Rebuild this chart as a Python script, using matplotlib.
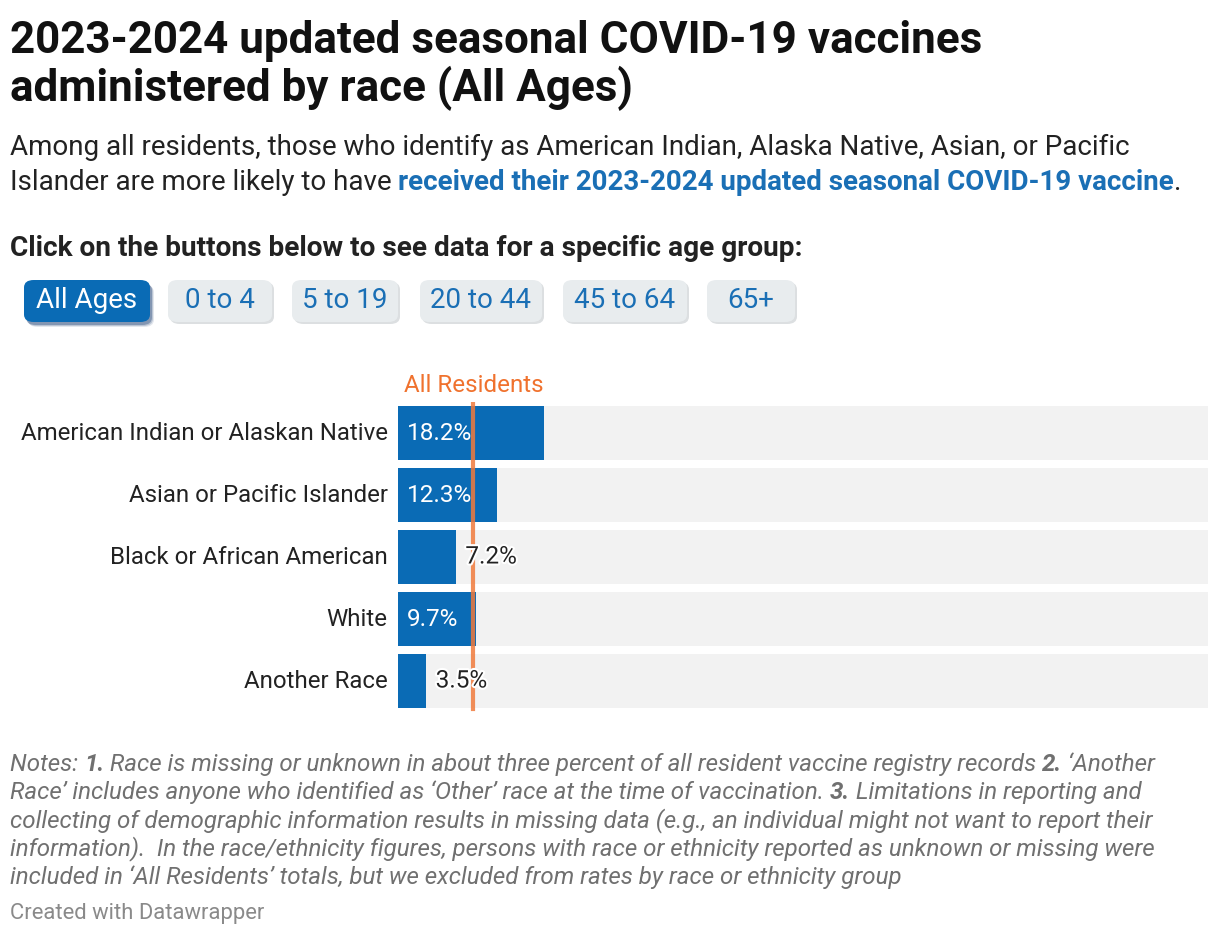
import matplotlib
matplotlib.use("Agg")
import matplotlib.pyplot as plt
from matplotlib.patches import FancyBboxPatch
import matplotlib.patheffects as pe

plt.rcParams['font.family'] = ['Roboto', 'DejaVu Sans']

# data
races = ["American Indian or Alaskan Native", "Asian or Pacific Islander",
         "Black or African American", "White", "Another Race"]
rates = [18.2, 12.3, 7.2, 9.7, 3.5]
all_residents = 9.4
age_buttons = ["All Ages", "0 to 4", "5 to 19", "20 to 44", "45 to 64", "65+"]

W, H = 1220, 936
BLUE = "#0a6bb5"
ORANGE = "#f0722e"

fig = plt.figure(figsize=(W / 100, H / 100), dpi=100)
renderer = fig.canvas.get_renderer()


def fx(x):
    return x / W


def fy(y):
    return 1 - y / H


def segments(x, y, parts, size, style="normal"):
    # draw a line of text made of pieces with different weight/colour
    for txt, weight, color in parts:
        t = fig.text(fx(x), fy(y), txt, fontsize=size, fontweight=weight,
                     color=color, style=style, va="baseline", ha="left")
        bb = t.get_window_extent(renderer)
        x = bb.x1


# title and subtitle
fig.text(fx(10), fy(53), "2023-2024 updated seasonal COVID-19 vaccines",
         fontsize=31.7, fontweight="bold", color="#111111", va="baseline")
fig.text(fx(10), fy(101), "administered by race (All Ages)",
         fontsize=31.7, fontweight="bold", color="#111111", va="baseline")
fig.text(fx(10), fy(155), "Among all residents, those who identify as American Indian, "
         "Alaska Native, Asian, or Pacific", fontsize=20, color="#222222",
         va="baseline")
segments(10, 190, [("Islander are more likely to have ", "normal", "#222222"),
                   ("received their 2023-2024 updated seasonal COVID-19 vaccine", "bold", "#1a6fb5"),
                   (".", "normal", "#222222")], 20)
fig.text(fx(10), fy(256), "Click on the buttons below to see data for a specific age group:",
         fontsize=20.2, fontweight="bold", color="#222222", va="baseline")

# buttons
btn_x = [24, 168, 292, 420, 563, 707]
btn_w = [126, 104, 106, 122, 124, 88]
for i, lab in enumerate(age_buttons):
    active = i == 0
    x0, w = btn_x[i], btn_w[i]
    if active:
        for k, a in [(5, 0.12), (4, 0.2), (3, 0.35)]:
            sh = FancyBboxPatch((fx(x0 + k - 1), fy(322 + k)), fx(w), 42 / H,
                                boxstyle="round,pad=0,rounding_size=0.008",
                                transform=fig.transFigure, fc="#1d3f73", ec="none",
                                alpha=a)
            fig.patches.append(sh)
    else:
        sh = FancyBboxPatch((fx(x0 + 2), fy(324)), fx(w), 42 / H,
                            boxstyle="round,pad=0,rounding_size=0.008",
                            transform=fig.transFigure, fc="#dcdfe1", ec="none")
        fig.patches.append(sh)
    p = FancyBboxPatch((fx(x0), fy(322)), fx(w), 42 / H,
                       boxstyle="round,pad=0,rounding_size=0.008",
                       transform=fig.transFigure,
                       fc=BLUE if active else "#e8ecee", ec="none")
    fig.patches.append(p)
    fig.text(fx(x0 + w / 2), fy(301), lab, fontsize=20,
             color="white" if active else "#1a6fb5", ha="center", va="center")

# bar chart
ax = fig.add_axes([fx(398), fy(712), fx(1208) - fx(398), 310 / H])
xmax = 101
ypos = list(range(len(races)))
ax.barh(ypos, [xmax] * len(races), height=0.87, color="#f2f2f2", zorder=1)
ax.barh(ypos, rates, height=0.87, color=BLUE, zorder=2)
ax.set_xlim(0, xmax)
ax.set_ylim(len(races) - 0.5, -0.5)
ax.axis("off")

ax.axvline(all_residents, ymin=0.01, ymax=0.995, color="#f07a3c", lw=3,
           alpha=0.85, zorder=3)
ax.text(all_residents, -0.58, "All Residents", color=ORANGE, fontsize=17.4,
        ha="center", va="bottom")

for y, name, v in zip(ypos, races, rates):
    ax.text(-1.3, y, name, ha="right", va="center", fontsize=17.3, color="#222222")
    if v > 9:
        ax.text(1.1, y, f"{v}%", ha="left", va="center", fontsize=17.5,
                color="white", zorder=4)
    else:
        ax.text(v + 1.2, y, f"{v}%", ha="left", va="center", fontsize=17.5,
                color="#222222", zorder=4,
                path_effects=[pe.withStroke(linewidth=3, foreground="white")])

# notes
GRAY = "#707070"
note_lines = [
    [("Notes: ", "normal", GRAY), ("1.", "bold", GRAY),
     (" Race is missing or unknown in about three percent of all resident vaccine registry records ", "normal", GRAY),
     ("2.", "bold", GRAY), (" \u2018Another", "normal", GRAY)],
    [("Race\u2019 includes anyone who identified as \u2018Other\u2019 race at the time of vaccination. ", "normal", GRAY),
     ("3.", "bold", GRAY), (" Limitations in reporting and", "normal", GRAY)],
    [("collecting of demographic information results in missing data (e.g., an individual might not want to report their", "normal", GRAY)],
    [("information).  In the race/ethnicity figures, persons with race or ethnicity reported as unknown or missing were", "normal", GRAY)],
    [("included in \u2018All Residents\u2019 totals, but we excluded from rates by race or ethnicity group", "normal", GRAY)],
]
for i, parts in enumerate(note_lines):
    segments(10, 771 + i * 28.2, parts, 17.4, style="italic")

fig.text(fx(10), fy(919), "Created with Datawrapper", fontsize=15.8,
         color="#8a8a8a", va="baseline")

fig.savefig("out.png", dpi=100)
